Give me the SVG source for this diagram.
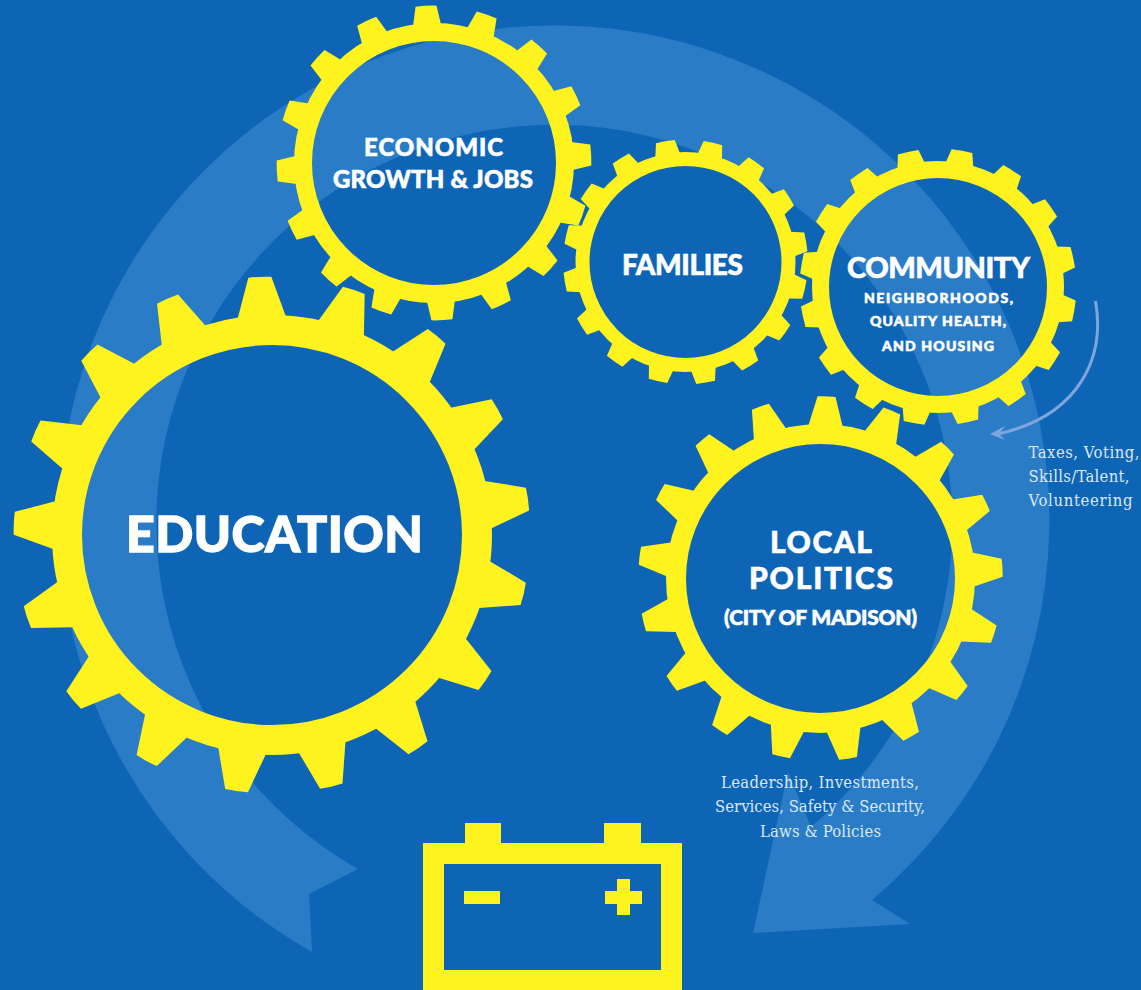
<svg xmlns="http://www.w3.org/2000/svg" width="1141" height="990" viewBox="0 0 1141 990">
<style>
.rim{fill:none;stroke:#fff31f}
.y{fill:#fff31f}
.h{font-family:Lato,"Liberation Sans",sans-serif;font-weight:900;fill:#fff;stroke:#fff;stroke-width:.6;text-anchor:middle}
.c{font-family:"DejaVu Serif Condensed","DejaVu Serif",serif;fill:#dbe8f6;font-size:16.500px}
.m{text-anchor:middle}
</style>
<defs>
<path id="tE" class="y" d="M-24,-218L-11.500,-258Q0,-259 11.500,-258L24,-218Z"/>
<path id="tG" class="y" d="M-14,-138L-10.500,-157Q0,-157.800 10.500,-157L14,-138Z"/>
<path id="tF" class="y" d="M-12.500,-108L-9.500,-122Q0,-122.600 9.500,-122L12.500,-108Z"/>
<path id="tC" class="y" d="M-14,-124L-10.500,-138Q0,-138.600 10.500,-138L14,-124Z"/>
<path id="tL" class="y" d="M-17,-153L-9,-182Q0,-182.600 9,-182L17,-153Z"/>
</defs>
<rect width="1141" height="990" fill="#0e65b6"/>
<g id="connectors">
<path id="cycle-arrow" fill="#2a7cc6" d="M312,952A495,495 0 1 1 872,900L910,924L753,933L788,772L811,827A398,398 0 1 0 358,869L309,894Z"/>
<path id="small-arrow" fill="none" stroke="#7fa6dc" stroke-width="3" d="M1095.500,301C1105,355 1082,415 998,434"/>
<path id="small-arrow-head" fill="#7fa6dc" d="M990,434L1005,426L999,434L1005,440Z"/>
</g>
<g id="education">
<circle class="rim" cx="272" cy="535" r="205" stroke-width="30"/>
<g transform="translate(272,535)">
<use href="#tE" transform="rotate(-2.700)"/><use href="#tE" transform="rotate(18.480)"/><use href="#tE" transform="rotate(39.650)"/><use href="#tE" transform="rotate(60.830)"/><use href="#tE" transform="rotate(82)"/><use href="#tE" transform="rotate(103.180)"/><use href="#tE" transform="rotate(124.360)"/><use href="#tE" transform="rotate(145.530)"/><use href="#tE" transform="rotate(166.710)"/><use href="#tE" transform="rotate(187.890)"/><use href="#tE" transform="rotate(209.060)"/><use href="#tE" transform="rotate(230.240)"/><use href="#tE" transform="rotate(251.420)"/><use href="#tE" transform="rotate(272.590)"/><use href="#tE" transform="rotate(293.770)"/><use href="#tE" transform="rotate(314.950)"/><use href="#tE" transform="rotate(336.120)"/>
</g>
<text class="h" x="274.500" y="552" font-size="50" textLength="297" style="stroke-width:1.300">EDUCATION</text>
</g>
<g id="economic-growth">
<circle class="rim" cx="434" cy="163" r="131" stroke-width="18"/>
<g transform="translate(434,163)">
<use href="#tG" transform="rotate(-2.900)"/><use href="#tG" transform="rotate(19.600)"/><use href="#tG" transform="rotate(42.100)"/><use href="#tG" transform="rotate(64.600)"/><use href="#tG" transform="rotate(87.100)"/><use href="#tG" transform="rotate(109.600)"/><use href="#tG" transform="rotate(132.100)"/><use href="#tG" transform="rotate(154.600)"/><use href="#tG" transform="rotate(177.100)"/><use href="#tG" transform="rotate(199.600)"/><use href="#tG" transform="rotate(222.100)"/><use href="#tG" transform="rotate(244.600)"/><use href="#tG" transform="rotate(267.100)"/><use href="#tG" transform="rotate(289.600)"/><use href="#tG" transform="rotate(312.100)"/><use href="#tG" transform="rotate(334.600)"/>
</g>
<text class="h" x="433.500" y="156" font-size="24" textLength="139">ECONOMIC</text>
<text class="h" x="433" y="188" font-size="24" textLength="200">GROWTH &amp; JOBS</text>
</g>
<g id="families">
<circle class="rim" cx="685.500" cy="262" r="103" stroke-width="14"/>
<g transform="translate(685.500,262)">
<use href="#tF" transform="rotate(-9.500)"/><use href="#tF" transform="rotate(13)"/><use href="#tF" transform="rotate(35.500)"/><use href="#tF" transform="rotate(58)"/><use href="#tF" transform="rotate(80.500)"/><use href="#tF" transform="rotate(103)"/><use href="#tF" transform="rotate(125.500)"/><use href="#tF" transform="rotate(148)"/><use href="#tF" transform="rotate(170.500)"/><use href="#tF" transform="rotate(193)"/><use href="#tF" transform="rotate(215.500)"/><use href="#tF" transform="rotate(238)"/><use href="#tF" transform="rotate(260.500)"/><use href="#tF" transform="rotate(283)"/><use href="#tF" transform="rotate(305.500)"/><use href="#tF" transform="rotate(328)"/>
</g>
<text class="h" x="682.500" y="275" font-size="28" textLength="121">FAMILIES</text>
</g>
<g id="community">
<circle class="rim" cx="938" cy="287" r="117.500" stroke-width="17"/>
<g transform="translate(938,287)">
<use href="#tC" transform="rotate(-12.500)"/><use href="#tC" transform="rotate(10)"/><use href="#tC" transform="rotate(32.500)"/><use href="#tC" transform="rotate(55)"/><use href="#tC" transform="rotate(77.500)"/><use href="#tC" transform="rotate(100)"/><use href="#tC" transform="rotate(122.500)"/><use href="#tC" transform="rotate(145)"/><use href="#tC" transform="rotate(167.500)"/><use href="#tC" transform="rotate(190)"/><use href="#tC" transform="rotate(212.500)"/><use href="#tC" transform="rotate(235)"/><use href="#tC" transform="rotate(257.500)"/><use href="#tC" transform="rotate(280)"/><use href="#tC" transform="rotate(302.500)"/><use href="#tC" transform="rotate(325)"/>
</g>
<text class="h" x="938.500" y="278" font-size="29" textLength="183">COMMUNITY</text>
<text class="h" x="938.500" y="303" font-size="14" textLength="149">NEIGHBORHOODS,</text>
<text class="h" x="938" y="326" font-size="14" textLength="136">QUALITY HEALTH,</text>
<text class="h" x="938" y="351" font-size="14" textLength="112">AND HOUSING</text>
</g>
<g id="local-politics">
<circle class="rim" cx="820.500" cy="578.500" r="144.500" stroke-width="20"/>
<g transform="translate(820.500,578.500)">
<use href="#tL" transform="rotate(1.900)"/><use href="#tL" transform="rotate(23.080)"/><use href="#tL" transform="rotate(44.250)"/><use href="#tL" transform="rotate(65.430)"/><use href="#tL" transform="rotate(86.600)"/><use href="#tL" transform="rotate(107.780)"/><use href="#tL" transform="rotate(128.960)"/><use href="#tL" transform="rotate(150.130)"/><use href="#tL" transform="rotate(171.310)"/><use href="#tL" transform="rotate(192.490)"/><use href="#tL" transform="rotate(213.660)"/><use href="#tL" transform="rotate(234.840)"/><use href="#tL" transform="rotate(256.020)"/><use href="#tL" transform="rotate(277.190)"/><use href="#tL" transform="rotate(298.370)"/><use href="#tL" transform="rotate(319.550)"/><use href="#tL" transform="rotate(340.720)"/>
</g>
<text class="h" x="821" y="553" font-size="30" textLength="102">LOCAL</text>
<text class="h" x="821" y="589" font-size="30" textLength="144">POLITICS</text>
<text class="h" x="820.500" y="625" font-size="21" textLength="193">(CITY OF MADISON)</text>
</g>
<g id="battery">
<path class="y" fill-rule="evenodd" d="M423,843H465V823H501V843H604V823H641V843H682V990H423ZM444,864V970H661V864Z"/>
<rect class="y" x="464" y="891" width="36" height="13"/>
<path class="y" d="M617,879H630V891H642V904H630V915H617V904H605V891H617Z"/>
</g>
<g id="captions">
<text class="c m" x="820" y="787.500" textLength="198">Leadership, Investments,</text>
<text class="c m" x="820" y="812" textLength="210">Services, Safety &amp; Security,</text>
<text class="c m" x="820.500" y="836.500" textLength="121">Laws &amp; Policies</text>
<text class="c" x="1028.500" y="457.500" textLength="111">Taxes, Voting,</text>
<text class="c" x="1028.500" y="481.500" textLength="101">Skills/Talent,</text>
<text class="c" x="1028.500" y="506" textLength="104">Volunteering</text>
</g>
</svg>
